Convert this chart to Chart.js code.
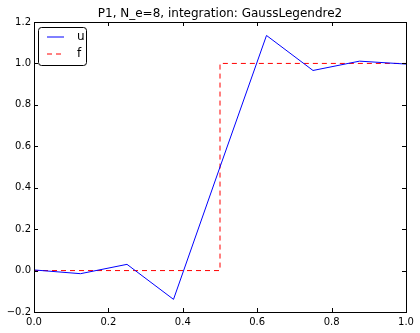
<!DOCTYPE html>
<html><head><meta charset="utf-8">
<script src="https://cdn.jsdelivr.net/npm/chart.js@4"></script>
<style>html,body{margin:0;padding:0;background:#fff}#wrap{width:420px;height:333px}</style>
</head><body><div id="wrap"><canvas id="c" width="420" height="333"></canvas></div>
<script>
const uX = [0, 0.125, 0.25, 0.375, 0.5, 0.625, 0.75, 0.875, 1.0];
const uY = [0.003, -0.015, 0.030, -0.139, 0.50, 1.135, 0.966, 1.011, 0.997];
const fX = [0, 0.5, 0.5, 1.0];
const fY = [0, 0, 1, 1];
const xTicks = [0, 0.2, 0.4, 0.6, 0.8, 1.0];
const yTicks = [-0.2, 0, 0.2, 0.4, 0.6, 0.8, 1.0, 1.2];
const titleText = 'P1, N_e=8, integration: GaussLegendre2';
const FONT = "'DejaVu Sans', sans-serif";

const fmt = v => v.toFixed(1).replace('-', '\u2212');

const framePlugin = {
  id: 'frame',
  afterDatasetsDraw(chart) {
    const {ctx, chartArea: a, scales} = chart;
    ctx.save();
    ctx.strokeStyle = '#000';
    ctx.lineWidth = 1;
    ctx.beginPath();
    xTicks.forEach(v => {
      const p = Math.round(scales.x.getPixelForValue(v)) + 0.5;
      ctx.moveTo(p, a.bottom); ctx.lineTo(p, a.bottom - 4);
      ctx.moveTo(p, a.top); ctx.lineTo(p, a.top + 4);
    });
    yTicks.forEach(v => {
      const p = Math.round(scales.y.getPixelForValue(v)) + 0.5;
      ctx.moveTo(a.left, p); ctx.lineTo(a.left + 4, p);
      ctx.moveTo(a.right, p); ctx.lineTo(a.right - 4, p);
    });
    ctx.stroke();
    ctx.strokeRect(Math.round(a.left) + 0.5, Math.round(a.top) + 0.5, Math.round(a.right - a.left), Math.round(a.bottom - a.top));
    // title
    ctx.fillStyle = '#000';
    ctx.font = '12px ' + FONT;
    ctx.textAlign = 'center';
    ctx.textBaseline = 'alphabetic';
    ctx.fillText(titleText, (a.left + a.right) / 2, a.top - 5);
    // legend
    const lx = 38.5, ly = 27.5, lw = 48, lh = 38, r = 3;
    ctx.beginPath();
    ctx.moveTo(lx + r, ly);
    ctx.arcTo(lx + lw, ly, lx + lw, ly + lh, r);
    ctx.arcTo(lx + lw, ly + lh, lx, ly + lh, r);
    ctx.arcTo(lx, ly + lh, lx, ly, r);
    ctx.arcTo(lx, ly, lx + lw, ly, r);
    ctx.closePath();
    ctx.fillStyle = '#fff';
    ctx.fill();
    ctx.strokeStyle = '#000';
    ctx.stroke();
    const items = [
      {label: 'u', color: '#0000ff', dash: []},
      {label: 'f', color: '#ff0000', dash: [5, 4]}
    ];
    items.forEach((it, i) => {
      const yy = 37 + i * 17;
      ctx.beginPath();
      ctx.setLineDash(it.dash);
      ctx.strokeStyle = it.color;
      ctx.moveTo(47, yy); ctx.lineTo(64, yy);
      ctx.stroke();
      ctx.setLineDash([]);
      ctx.fillStyle = '#000';
      ctx.font = '12px ' + FONT;
      ctx.textAlign = 'left';
      ctx.textBaseline = 'middle';
      ctx.fillText(it.label, 77, yy);
    });
    ctx.restore();
  }
};

new Chart(document.getElementById('c'), {
  type: 'line',
  data: {
    datasets: [
      {label: 'u', data: uX.map((x, i) => ({x, y: uY[i]})), borderColor: '#0000ff', borderWidth: 1, pointRadius: 0, fill: false, tension: 0},
      {label: 'f', data: fX.map((x, i) => ({x, y: fY[i]})), borderColor: '#ff0000', borderWidth: 1, borderDash: [5, 4], pointRadius: 0, fill: false, tension: 0}
    ]
  },
  options: {
    responsive: false,
    animation: false,
    events: [],
    layout: {padding: {top: 22, right: 14, left: 0, bottom: 0}},
    plugins: {legend: {display: false}, title: {display: false}, tooltip: {enabled: false}},
    scales: {
      x: {
        type: 'linear', min: 0, max: 1,
        afterBuildTicks: s => { s.ticks = xTicks.map(v => ({value: v})); },
        afterFit: s => { s.height = 21; },
        grid: {display: false, drawTicks: false},
        border: {display: false},
        ticks: {color: '#000', font: {family: FONT, size: 10}, padding: 4, maxRotation: 0, autoSkip: false, callback: v => fmt(v)}
      },
      y: {
        type: 'linear', min: -0.2, max: 1.2,
        afterBuildTicks: s => { s.ticks = yTicks.map(v => ({value: v})); },
        afterFit: s => { s.width = 34; },
        grid: {display: false, drawTicks: false},
        border: {display: false},
        ticks: {color: '#000', font: {family: FONT, size: 10}, padding: 3, autoSkip: false, callback: v => fmt(v)}
      }
    }
  },
  plugins: [framePlugin]
});
</script></body></html>
